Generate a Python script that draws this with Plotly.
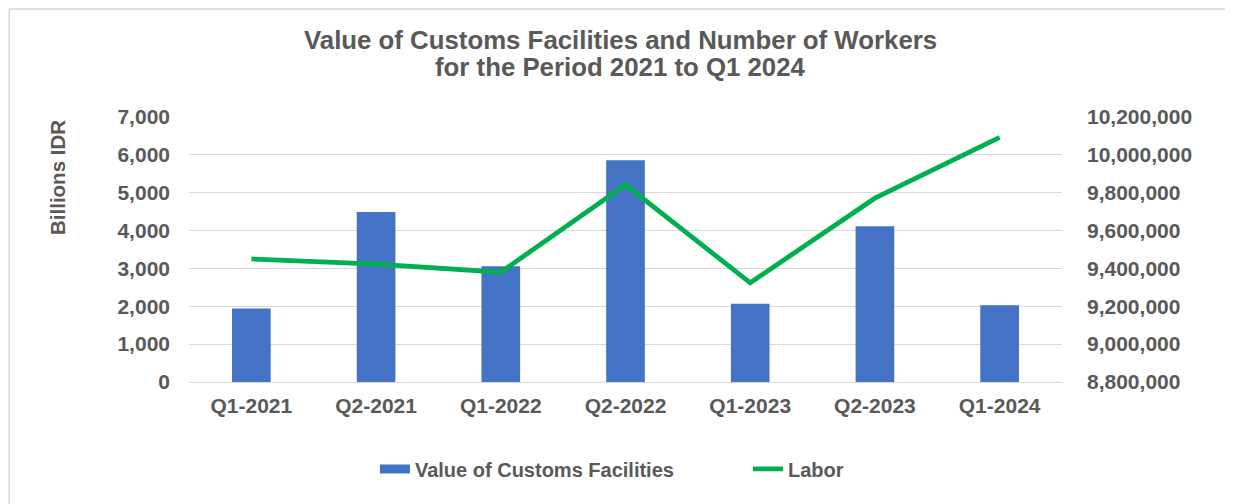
import plotly.graph_objects as go

# data
quarters = ["Q1-2021", "Q2-2021", "Q1-2022", "Q2-2022", "Q1-2023", "Q2-2023", "Q1-2024"]
customs_value = [1940, 4490, 3060, 5860, 2065, 4115, 2030]          # billions IDR
labor = [9450000, 9423000, 9380000, 9842000, 9324000, 9771000, 10092000]

left_ticks = [0, 1000, 2000, 3000, 4000, 5000, 6000, 7000]
right_ticks = [8800000, 9000000, 9200000, 9400000, 9600000, 9800000, 10000000, 10200000]

title_lines = ["Value of Customs Facilities and Number of Workers",
               "for the Period 2021 to Q1 2024"]

grey = "#595959"
blue = "#4472C4"
green = "#00B050"
font = "Liberation Sans, Arial, sans-serif"
bold = dict(family=font, color=grey, weight="bold")

fig = go.Figure()

fig.add_trace(go.Bar(
    x=quarters, y=customs_value,
    name="Value of Customs Facilities",
    marker=dict(color=blue, line=dict(width=0)),
    showlegend=False,
))

# legend entry drawn as a wide flat box like the Excel legend key
fig.add_trace(go.Scatter(
    x=[None], y=[None], mode="lines",
    name="Value of Customs Facilities",
    line=dict(color=blue, width=9),
    hoverinfo="skip",
))

fig.add_trace(go.Scatter(
    x=quarters, y=labor,
    name="Labor",
    mode="lines",
    line=dict(color=green, width=4.8),
    yaxis="y2",
))

fig.update_layout(
    width=1225, height=496,
    margin=dict(l=181, r=171, t=109, b=122),
    paper_bgcolor="white", plot_bgcolor="white",
    font=dict(family=font, color=grey),
    bargap=0.69,
    showlegend=True,
    legend=dict(
        orientation="h", x=0.213, xanchor="left", y=-0.328, yanchor="middle",
        font=dict(size=20, **bold),
        itemwidth=30, entrywidth=328, entrywidthmode="pixels",
        traceorder="normal",
    ),
    xaxis=dict(
        showgrid=False, showline=False, ticks="",
        tickfont=dict(size=21, **bold),
        ticklabelstandoff=9,
    ),
    yaxis=dict(
        range=[0, 7000], tickvals=left_ticks, tickformat=",d",
        showgrid=True, gridcolor="#D9D9D9", gridwidth=1,
        zeroline=True, zerolinecolor="#D9D9D9", zerolinewidth=1,
        showline=False, ticks="",
        tickfont=dict(size=21, **bold),
        ticklabelstandoff=18,
    ),
    yaxis2=dict(
        range=[8800000, 10200000], tickvals=right_ticks, tickformat=",d",
        overlaying="y", side="right", showgrid=False, zeroline=False,
        showline=False, ticks="",
        tickfont=dict(size=21, **bold),
        ticklabelstandoff=24,
    ),
    annotations=[
        dict(text=title_lines[0], xref="paper", yref="paper", x=0.4937, y=1.2906,
             xanchor="center", yanchor="middle", showarrow=False,
             font=dict(size=25.8, **bold)),
        dict(text=title_lines[1], xref="paper", yref="paper", x=0.4937, y=1.1887,
             xanchor="center", yanchor="middle", showarrow=False,
             font=dict(size=25.8, **bold)),
        dict(text="Billions IDR", textangle=-90,
             xref="paper", yref="paper", x=-0.150, y=0.77,
             xanchor="center", yanchor="middle", showarrow=False,
             font=dict(size=20.5, **bold)),
    ],
    shapes=[
        dict(type="line", xref="paper", yref="paper", x0=-0.206, x1=1.25, y0=1.408, y1=1.408,
             line=dict(color="#D9D9D9", width=1.5)),
        dict(type="line", xref="paper", yref="paper", x0=-0.206, x1=-0.206, y0=1.408, y1=-0.5,
             line=dict(color="#D9D9D9", width=1.5)),
    ],
)

fig.write_html("out.html")
